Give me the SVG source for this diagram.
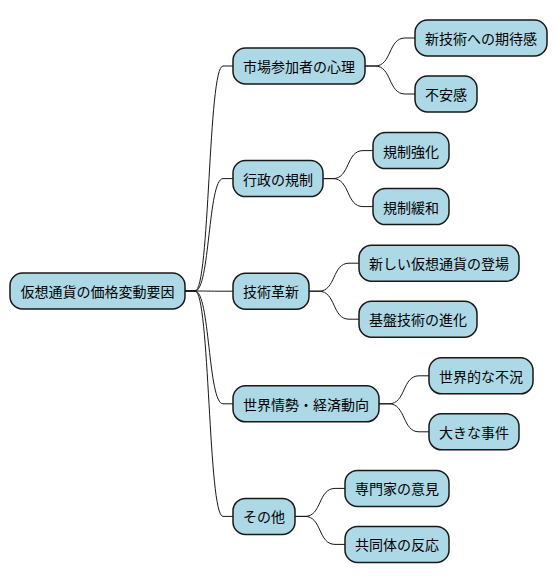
<svg xmlns="http://www.w3.org/2000/svg" width="558" height="583" viewBox="0 0 558 583">
<style>
.n rect{fill:#ADD8E6;stroke:#181818;stroke-width:1.5}
.n text{font-family:"Noto Sans CJK JP","Noto Sans",sans-serif;font-size:14px;fill:#000;text-anchor:middle;dominant-baseline:central}
.c path{fill:none;stroke:#181818;stroke-width:1}
</style>
<rect width="558" height="583" fill="#fff"/>
<g class="c">
<path d="M185,291 L195,291 C210,291 208,66 223,66 L233,66"/>
<path d="M185,291 L195,291 C210,291 208,178.6 223,178.6 L233,178.6"/>
<path d="M185,291 L195,291 C210,291 208,291.2 223,291.2 L233,291.2"/>
<path d="M185,291 L195,291 C210,291 208,403.8 223,403.8 L233,403.8"/>
<path d="M185,291 L195,291 C210,291 208,516.4 223,516.4 L233,516.4"/>
<path d="M365,66 L375,66 C392,66 388,38 405,38 L415,38"/>
<path d="M365,66 L375,66 C392,66 388,94 405,94 L415,94"/>
<path d="M323,178.6 L333,178.6 C350,178.6 346,150.6 363,150.6 L373,150.6"/>
<path d="M323,178.6 L333,178.6 C350,178.6 346,206.6 363,206.6 L373,206.6"/>
<path d="M309,291.2 L319,291.2 C336,291.2 332,263.2 349,263.2 L359,263.2"/>
<path d="M309,291.2 L319,291.2 C336,291.2 332,319.2 349,319.2 L359,319.2"/>
<path d="M379,403.8 L389,403.8 C406,403.8 402,375.8 419,375.8 L429,375.8"/>
<path d="M379,403.8 L389,403.8 C406,403.8 402,431.8 419,431.8 L429,431.8"/>
<path d="M295,516.4 L305,516.4 C322,516.4 318,488.4 335,488.4 L345,488.4"/>
<path d="M295,516.4 L305,516.4 C322,516.4 318,544.4 335,544.4 L345,544.4"/>
</g>
<g id="root" class="n"><rect x="10" y="273" width="175" height="36" rx="12.5"/><text x="97.5" y="291">仮想通貨の価格変動要因</text></g>
<g id="n1" class="n"><rect x="233" y="48" width="132" height="36" rx="12.5"/><text x="299" y="66">市場参加者の心理</text></g>
<g id="n1a" class="n"><rect x="415" y="20" width="132" height="36" rx="12.5"/><text x="481" y="38">新技術への期待感</text></g>
<g id="n1b" class="n"><rect x="415" y="76" width="62" height="36" rx="12.5"/><text x="446" y="94">不安感</text></g>
<g id="n2" class="n"><rect x="233" y="160.6" width="90" height="36" rx="12.5"/><text x="278" y="178.6">行政の規制</text></g>
<g id="n2a" class="n"><rect x="373" y="132.6" width="76" height="36" rx="12.5"/><text x="411" y="150.6">規制強化</text></g>
<g id="n2b" class="n"><rect x="373" y="188.6" width="76" height="36" rx="12.5"/><text x="411" y="206.6">規制緩和</text></g>
<g id="n3" class="n"><rect x="233" y="273.2" width="76" height="36" rx="12.5"/><text x="271" y="291.2">技術革新</text></g>
<g id="n3a" class="n"><rect x="359" y="245.2" width="160" height="36" rx="12.5"/><text x="439" y="263.2">新しい仮想通貨の登場</text></g>
<g id="n3b" class="n"><rect x="359" y="301.2" width="118" height="36" rx="12.5"/><text x="418" y="319.2">基盤技術の進化</text></g>
<g id="n4" class="n"><rect x="233" y="385.8" width="146" height="36" rx="12.5"/><text x="306" y="403.8">世界情勢・経済動向</text></g>
<g id="n4a" class="n"><rect x="429" y="357.8" width="104" height="36" rx="12.5"/><text x="481" y="375.8">世界的な不況</text></g>
<g id="n4b" class="n"><rect x="429" y="413.8" width="90" height="36" rx="12.5"/><text x="474" y="431.8">大きな事件</text></g>
<g id="n5" class="n"><rect x="233" y="498.4" width="62" height="36" rx="12.5"/><text x="264" y="516.4">その他</text></g>
<g id="n5a" class="n"><rect x="345" y="470.4" width="104" height="36" rx="12.5"/><text x="397" y="488.4">専門家の意見</text></g>
<g id="n5b" class="n"><rect x="345" y="526.4" width="104" height="36" rx="12.5"/><text x="397" y="544.4">共同体の反応</text></g>
</svg>
